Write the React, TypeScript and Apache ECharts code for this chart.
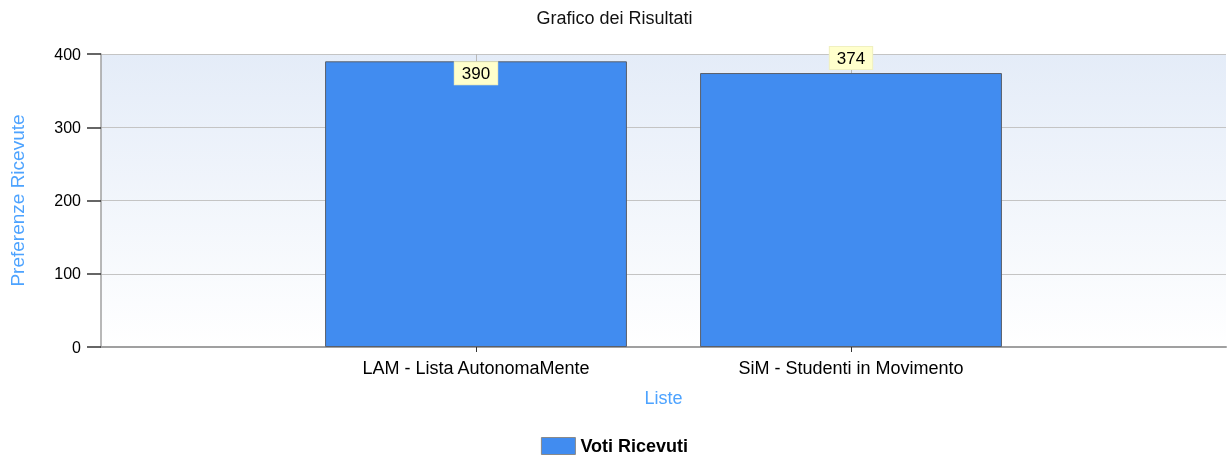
import React, { useEffect, useRef } from "react";
import * as echarts from "echarts";

const title = "Grafico dei Risultati";
const categories = ["LAM - Lista AutonomaMente", "SiM - Studenti in Movimento"];
const votes = [390, 374];
const labelPositions = ["insideTop", "top"];
const seriesName = "Voti Ricevuti";
const yTicks = { min: 0, max: 400, interval: 100 };
const xName = "Liste";
const yName = "Preferenze Ricevute";

const FONT = "'Liberation Sans', Arial, sans-serif";

export default function App() {
  const ref = useRef<HTMLDivElement>(null);
  useEffect(() => {
    if (!ref.current) return;
    const chart = echarts.init(ref.current, null, { renderer: "svg" });
    const axisData = ["", ...categories, ""];
    const barData: any[] = [
      null,
      ...votes.map((v, i) => ({
        value: v,
        label: {
          position: labelPositions[i],
          distance: i === 0 ? 1 : 4,
        },
      })),
      null,
    ];
    const isCat = (i: number) => i >= 1 && i <= categories.length;
    chart.setOption({
      animation: false,
      textStyle: { fontFamily: FONT },
      title: {
        text: title,
        left: "center",
        top: 4,
        textStyle: { fontSize: 18, fontWeight: "normal", color: "#111", fontFamily: FONT },
      },
      legend: {
        top: 437,
        left: "center",
        padding: 0,
        itemWidth: 34,
        itemHeight: 17,
        itemGap: 10,
        icon: "rect",
        data: [seriesName],
        itemStyle: { borderColor: "#8a8a8a", borderWidth: 1 },
        textStyle: { fontSize: 18, fontWeight: "bold", color: "#000", fontFamily: FONT },
      },
      grid: {
        left: 100,
        right: 0,
        top: 54,
        bottom: 112,
        show: true,
        borderWidth: 0,
        backgroundColor: new echarts.graphic.LinearGradient(0, 0, 0, 1, [
          { offset: 0, color: "#e4ecf8" },
          { offset: 1, color: "#ffffff" },
        ]),
      },
      xAxis: {
        type: "category",
        data: axisData,
        boundaryGap: false,
        name: xName,
        nameLocation: "middle",
        nameGap: 42,
        nameTextStyle: { color: "#4da3ff", fontSize: 18, fontFamily: FONT },
        axisLine: { show: true, lineStyle: { color: "#a0a0a0", width: 2 } },
        axisTick: {
          show: true,
          length: 5,
          interval: (i: number) => isCat(i),
          lineStyle: { color: "#333", width: 1 },
        },
        axisLabel: {
          interval: 0,
          margin: 12,
          fontSize: 18,
          color: "#000",
          fontFamily: FONT,
        },
        splitLine: {
          show: true,
          interval: (i: number) => isCat(i),
          lineStyle: { color: "#b8b8b8", width: 1 },
        },
      },
      yAxis: {
        type: "value",
        min: yTicks.min,
        max: yTicks.max,
        interval: yTicks.interval,
        name: yName,
        nameLocation: "middle",
        nameGap: 74,
        nameTextStyle: { color: "#4da3ff", fontSize: 19, fontFamily: FONT },
        axisLine: { show: true, lineStyle: { color: "#a0a0a0", width: 1.5 } },
        axisTick: { show: true, length: 14, lineStyle: { color: "#333", width: 1.5 } },
        axisLabel: { margin: 20, fontSize: 16, color: "#000", fontFamily: FONT },
        splitLine: { show: true, lineStyle: { color: "#c4c4c4", width: 1 } },
      },
      series: [
        {
          name: seriesName,
          type: "bar",
          data: barData,
          barWidth: "80.5%",
          itemStyle: { color: "#418cf0", borderColor: "#5a5f6a", borderWidth: 1 },
          label: {
            show: true,
            fontSize: 17,
            color: "#000",
            fontFamily: FONT,
            backgroundColor: "#ffffcc",
            borderColor: "#f0f0c0",
            borderWidth: 1,
            padding: [3, 7, 2, 7],
          },
        },
      ],
    });
    return () => chart.dispose();
  }, []);
  return (
    <div
      ref={ref}
      style={{ position: "fixed", left: 0, top: 0, width: 1229, height: 459 }}
    />
  );
}
